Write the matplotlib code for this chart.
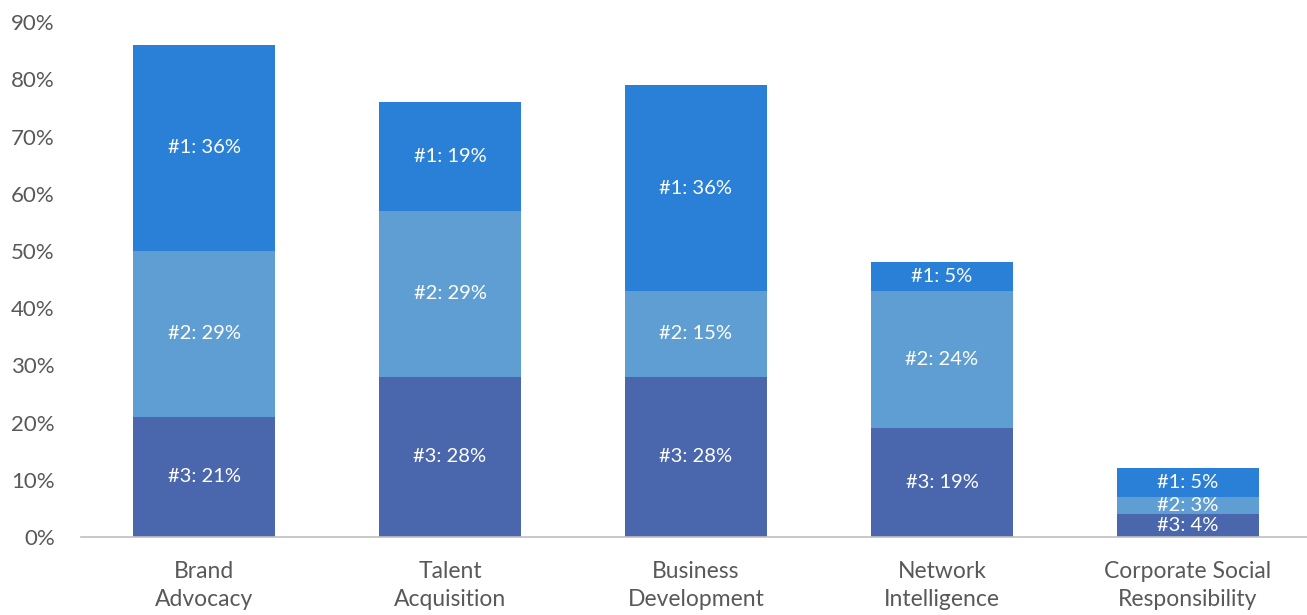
import numpy as np
import matplotlib.pyplot as plt

categories = ["Brand\nAdvocacy", "Talent\nAcquisition", "Business\nDevelopment",
              "Network\nIntelligence", "Corporate Social\nResponsibility"]
rank3 = [21, 28, 28, 19, 4]
rank2 = [29, 29, 15, 24, 3]
rank1 = [36, 19, 36, 5, 5]

series = [("#3", rank3, "#4A67AE"), ("#2", rank2, "#5F9ED2"), ("#1", rank1, "#2A7FD6")]

plt.rcParams["font.family"] = ["Lato", "DejaVu Sans"]
fig = plt.figure(figsize=(13.07, 6.15), dpi=100)
ax = fig.add_axes([0.062, 0.127, 0.941, 0.837])

x = np.arange(len(categories))
bottom = np.zeros(len(categories))
for name, vals, color in series:
    vals = np.array(vals, dtype=float)
    ax.bar(x, vals, width=0.577, bottom=bottom, color=color, zorder=2)
    for xi, b, v in zip(x, bottom, vals):
        ax.text(xi, b + v / 2, f"{name}: {int(v)}%", ha="center", va="center",
                color="white", fontsize=14.5, zorder=3)
    bottom += vals

ax.set_xlim(-0.5, 4.5)
ax.set_ylim(0, 90)
ax.set_yticks(np.arange(0, 91, 10))
ax.set_yticklabels([f"{t}%" for t in range(0, 91, 10)])
ax.set_xticks(x)
ax.set_xticklabels(categories, linespacing=1.45)

for side in ["top", "right", "left"]:
    ax.spines[side].set_visible(False)
ax.spines["bottom"].set_color("#BFBFBF")
ax.spines["bottom"].set_linewidth(1.2)
ax.tick_params(axis="both", length=0, colors="#595959", labelsize=16)
ax.tick_params(axis="x", pad=17, labelsize=16.5)
ax.tick_params(axis="y", pad=19)
for lbl in ax.get_yticklabels():
    lbl.set_horizontalalignment("right")

fig.savefig("out.png", dpi=100)
